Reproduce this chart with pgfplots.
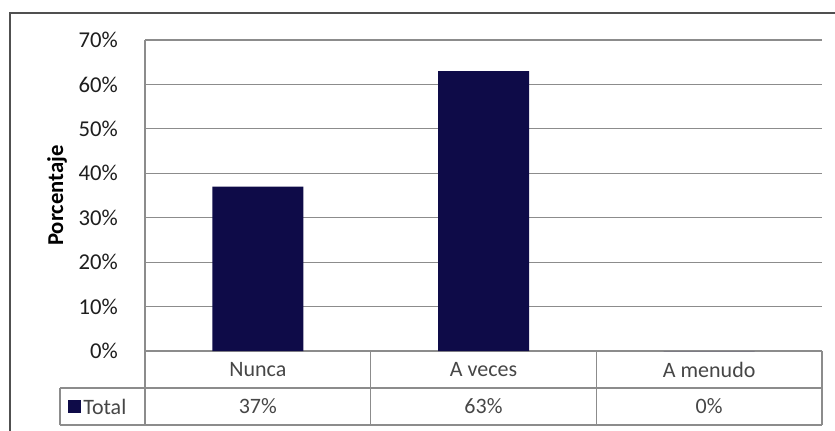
\documentclass[border=0pt]{standalone}
\usepackage{pgfplots}
\pgfplotsset{compat=1.18}
\usepackage{pgfplotstable}
\usepackage{fontspec}
\setmainfont{Carlito}

\definecolor{barnavy}{RGB}{14,11,72}
\definecolor{gridgray}{RGB}{140,140,140}
\definecolor{framegray}{RGB}{80,80,80}
\definecolor{ticktext}{RGB}{30,30,30}
\definecolor{tabletext}{RGB}{70,70,70}

% frequency of answers, in percent
\pgfplotstableread[col sep=comma]{
x,cat,val
0,Nunca,37
1,A veces,63
2,A menudo,0
}\freq

\begin{document}
\begin{tikzpicture}
\useasboundingbox (0,0) rectangle (626.25pt,322.5pt);

% outer chart frame (left and top edges)
\begin{scope}[x=0.75pt,y=0.75pt]
  \clip (0,0) rectangle (835,430);
  \draw[framegray, line width=1.8pt] (10,-10) -- (10,417) -- (850,417);
\end{scope}

\begin{axis}[
  at={(108.75pt,59.25pt)}, anchor=south west,
  scale only axis, width=507.75pt, height=233.25pt,
  clip=false,
  xmin=-0.5, xmax=2.5, ymin=0, ymax=70,
  ytick={0,10,...,70},
  yticklabel={\pgfmathprintnumber{\tick}\%},
  /pgf/number format/assume math mode=true,
  xtick=data,
  xticklabels from table={\freq}{cat},
  ymajorgrids,
  major grid style={gridgray, line width=0.9pt},
  axis x line*=bottom, axis y line*=left,
  axis line style={gridgray, line width=0.9pt, -},
  major tick length=0pt,
  yticklabel style={anchor=east, inner sep=0pt, xshift=-20.25pt,
    text=ticktext, font=\fontsize{17}{20}\selectfont},
  xticklabel style={anchor=center, yshift=-13.9pt, text=tabletext,
    font=\fontsize{16.5}{19}\selectfont},
  ylabel={Porcentaje},
  every axis y label/.style={at={(rel axis cs:0,0.5)}, anchor=center,
    rotate=90, yshift=66pt, font=\bfseries\fontsize{17}{20}\selectfont},
]
\addplot[ybar, bar width=68.25pt, fill=barnavy, draw=none,
  point meta=y,
  nodes near coords={\pgfmathprintnumber{\pgfplotspointmeta}\%},
  visualization depends on={y \as \rawy},
  every node near coord/.append style={anchor=center,
    yshift={-(\rawy+12.5)*3.33214pt}, text=tabletext,
    font=\fontsize{16.5}{19}\selectfont},
] table[x=x, y=val] {\freq};
\end{axis}

% data table grid and legend key
\begin{scope}[x=0.75pt,y=0.75pt]
  \draw[gridgray, line width=0.9pt]
    (60,42) -- (822,42)
    (60,5) -- (822,5)
    (60,5) -- (60,42)
    (145,5) -- (145,79)
    (370.7,5) -- (370.7,79)
    (596.3,5) -- (596.3,79)
    (822,5) -- (822,79);
  \fill[barnavy] (68,17) rectangle (81,30);
  \node[anchor=west, inner sep=0pt, text=tabletext,
    font=\fontsize{16.5}{19}\selectfont] at (83,23.5) {Total};
\end{scope}
\end{tikzpicture}
\end{document}
